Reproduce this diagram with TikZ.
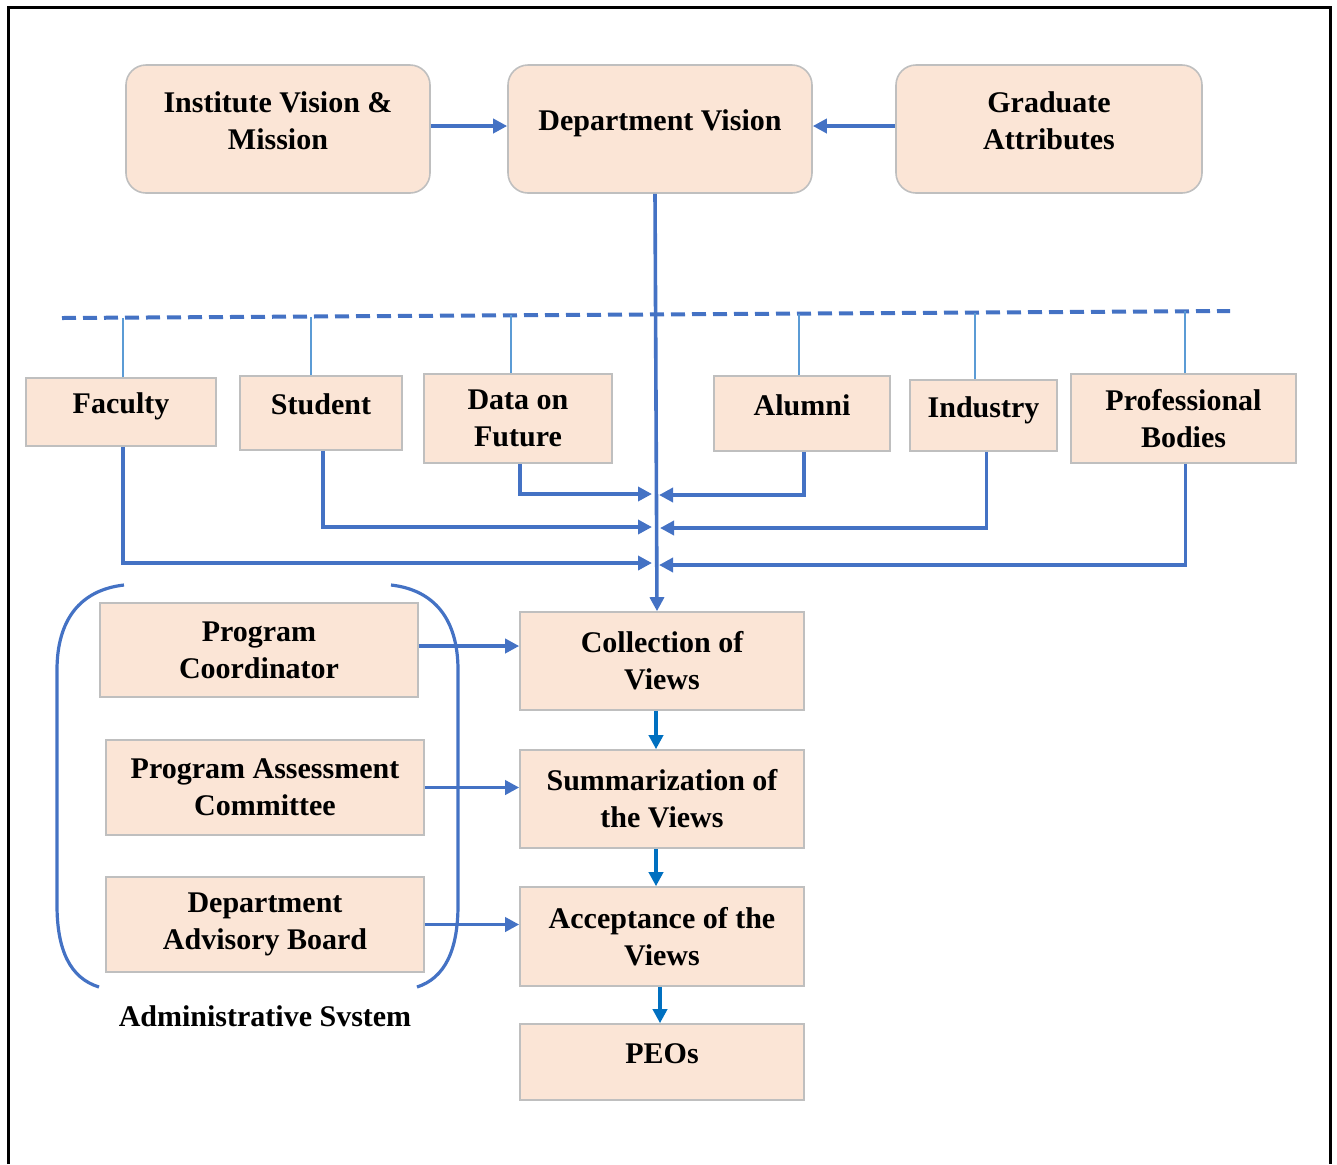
\documentclass[tikz,border=0pt]{standalone}
\usepackage{fontspec}
\setmainfont{Liberation Serif}
\usepackage{tikz}
\usetikzlibrary{arrows.meta}
\definecolor{boxfill}{HTML}{FBE5D6}
\definecolor{boxline}{HTML}{BFBFBF}
\definecolor{linkblue}{HTML}{4472C4}
\definecolor{stubblue}{HTML}{5B9BD5}
\definecolor{flowblue}{HTML}{0070C0}

\begin{document}
\begin{tikzpicture}[x=0.5pt, y=-0.5pt, line width=1.5pt,
    box/.style={draw=boxline, line width=0.8pt, fill=boxfill, align=center, inner sep=0pt,
        font=\fontsize{15}{18.5}\selectfont\bfseries},
    rbox/.style={box, rounded corners=10pt},
    uptext/.style={text depth=8.5pt},
    link/.style={draw=linkblue, line width=1.8pt, -{Triangle[length=7pt, width=7pt]}},
    flow/.style={draw=flowblue, line width=1.8pt, -{Triangle[length=7pt, width=7pt]}},
    stub/.style={draw=stubblue, line width=1.3pt},
    brace/.style={draw=linkblue, line width=1.6pt}]
    \useasboundingbox (0, 0) rectangle (1337, 1164);

    % draw outer frame
    \draw[line width=1.5pt] (8, 1164) -- (8, 7) -- (1330, 7) -- (1330, 1164);

    % draw top boxes
    \node[rbox, uptext, minimum width=152pt, minimum height=64pt] (inst) at (278, 129) {Institute Vision \&\\Mission};
    \node[rbox, uptext, minimum width=152pt, minimum height=64pt] (dvis) at (660, 129) {Department Vision};
    \node[rbox, uptext, minimum width=153pt, minimum height=64pt] (grad) at (1049, 129) {Graduate\\Attributes};
    \draw[link] (inst.east |- 0, 126) -- (dvis.west |- 0, 126);
    \draw[link] (grad.west |- 0, 126) -- (dvis.east |- 0, 126);

    % draw stakeholder boxes
    \node[box, uptext, minimum width=95pt, minimum height=34pt] (fac) at (121, 412) {Faculty};
    \node[box, uptext, minimum width=81pt, minimum height=37pt] (stu) at (321, 413) {Student};
    \node[box, minimum width=94pt, minimum height=44.5pt] (dat) at (518, 418.5) {Data on\\Future};
    \node[box, uptext, minimum width=88pt, minimum height=37.5pt] (alu) at (802, 413.5) {Alumni};
    \node[box, uptext, minimum width=73.5pt, minimum height=35.5pt] (ind) at (983.5, 415.5) {Industry};
    \node[box, minimum width=112.5pt, minimum height=44.5pt] (prof) at (1183.5, 418.5) {Professional\\Bodies};

    % draw dashed line and stubs
    \coordinate (dl1) at (62, 318);
    \coordinate (dl2) at (1230, 311);
    \draw[linkblue, line width=2pt, dash pattern=on 7pt off 3.5pt] (dl1) -- (dl2);
    \foreach \n/\x/\y in {fac/123/317.6, stu/311/316.5, dat/511/315.3, alu/799/313.6, ind/975/312.5, prof/1185/311.3}
        \draw[stub] (\n.north -| \x, 0) -- (\x, \y);

    % draw process column
    \node[box, minimum width=142pt, minimum height=49pt] (col) at (662, 661) {Collection of\\Views};
    \node[box, minimum width=142pt, minimum height=49pt] (sum) at (662, 799) {Summarization of\\the Views};
    \node[box, minimum width=142pt, minimum height=49.5pt] (acc) at (662, 936.5) {Acceptance of the\\Views};
    \node[box, uptext, minimum width=142pt, minimum height=38pt] (peo) at (662, 1062) {PEOs};
    \draw[flow] ([xshift=-3pt]col.south) -- ([xshift=-3pt]sum.north);
    \draw[flow] ([xshift=-3pt]sum.south) -- ([xshift=-3pt]acc.north);
    \draw[flow] ([xshift=-1pt]acc.south) -- ([xshift=-1pt]peo.north);

    % draw main line
    \draw[link] ([xshift=-2.5pt]dvis.south) -- ([xshift=-2.5pt]col.north);

    % draw feedback lines
    \coordinate (inL1) at (652, 494);
    \coordinate (inR1) at (659, 495);
    \coordinate (inL2) at (652, 527);
    \coordinate (inR2) at (660, 528);
    \coordinate (inL3) at (652, 563);
    \coordinate (inR3) at (659, 565);
    \draw[link] ([xshift=1pt]dat.south) |- (inL1);
    \draw[link] ([xshift=1pt]alu.south) |- (inR1);
    \draw[link] ([xshift=1pt]stu.south) |- (inL2);
    \draw[link] ([xshift=1.5pt]ind.south) |- (inR2);
    \draw[link] ([xshift=1pt]fac.south) |- (inL3);
    \draw[link] ([xshift=1pt]prof.south) |- (inR3);

    % draw administrative boxes
    \node[box, minimum width=159pt, minimum height=47pt] (pc) at (259, 650) {Program\\Coordinator};
    \node[box, minimum width=159pt, minimum height=47.5pt] (pac) at (265, 787.5) {Program Assessment\\Committee};
    \node[box, minimum width=159pt, minimum height=47.5pt] (dab) at (265, 924.5) {Department\\Advisory Board};
    \draw[link] ([yshift=2pt]pc.east) -- ([yshift=2pt]pc.east -| col.west);
    \draw[link] (pac.east) -- (pac.east -| sum.west);
    \draw[link] (dab.east) -- (dab.east -| acc.west);

    % draw brackets
    \draw[brace] (124, 585) .. controls (80, 590) and (57, 620) .. (57, 670) -- (57, 905)
        .. controls (57, 950) and (70, 978) .. (99, 987);
    \draw[brace] (391, 585) .. controls (435, 590) and (458, 620) .. (458, 670) -- (458, 905)
        .. controls (458, 950) and (445, 978) .. (417, 987);
    \node[font=\fontsize{15}{18.5}\selectfont\bfseries] (adm) at (265, 1016) {Administrative Svstem};

\end{tikzpicture}
\end{document}
